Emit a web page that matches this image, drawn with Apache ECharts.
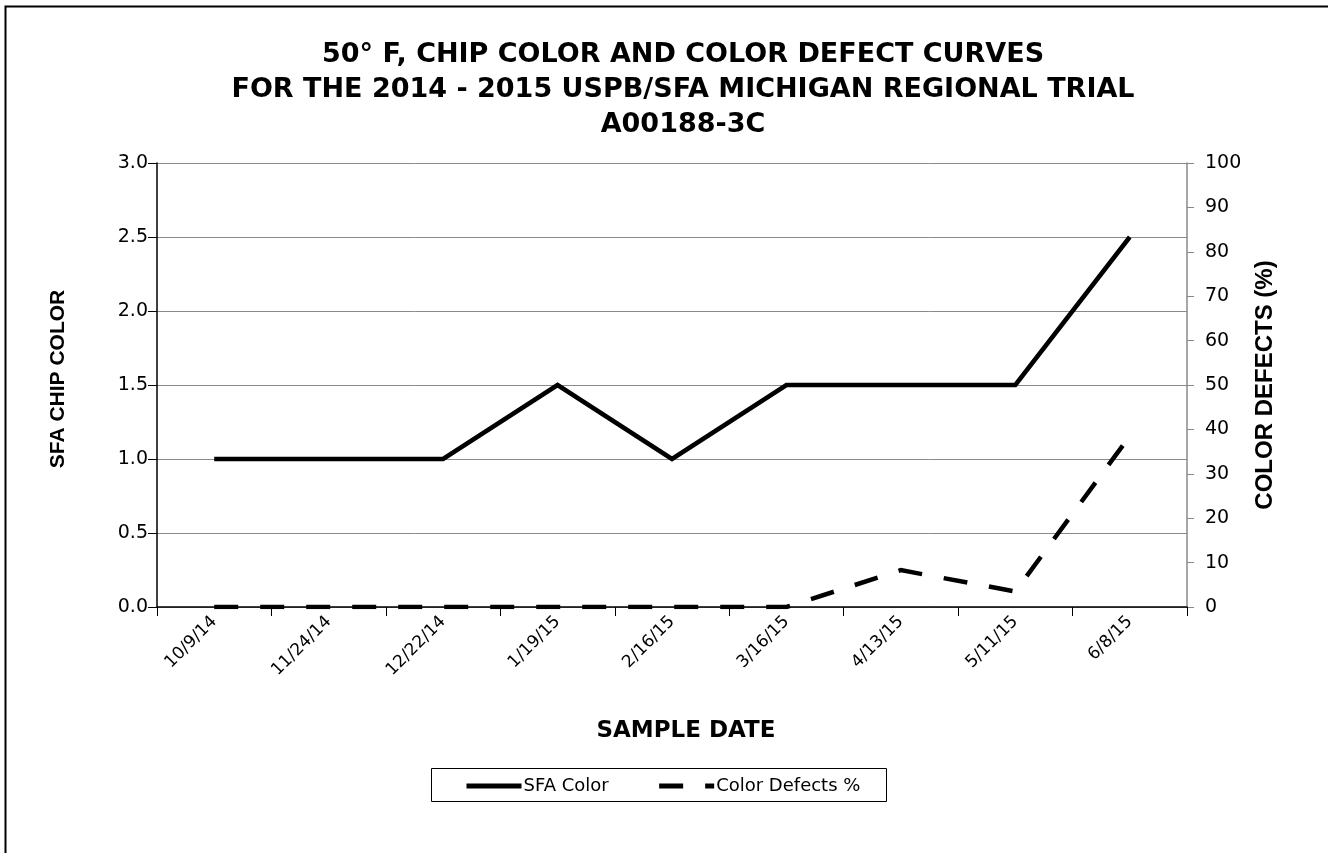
<!DOCTYPE html>
<html>
<head>
<meta charset="utf-8">
<script src="https://cdn.jsdelivr.net/npm/echarts@6/dist/echarts.min.js"></script>
<style>
  html, body { margin: 0; padding: 0; background: #fff; }
  #chart { width: 1328px; height: 853px; }
</style>
</head>
<body>
<div id="chart"></div>
<script>
// Sample dates (category axis)
const sampleDates = ['10/9/14', '11/24/14', '12/22/14', '1/19/15', '2/16/15', '3/16/15', '4/13/15', '5/11/15', '6/8/15'];
// SFA chip color score per sample date
const sfaColor = [1.0, 1.0, 1.0, 1.5, 1.0, 1.5, 1.5, 1.5, 2.5];
// Color defects in percent per sample date
const colorDefects = [0, 0, 0, 0, 0, 0, 8.3, 3.5, 38.5];

const titleLines = [
  '50° F, CHIP COLOR AND COLOR DEFECT CURVES',
  'FOR THE 2014 - 2015 USPB/SFA MICHIGAN REGIONAL TRIAL',
  'A00188-3C'
];

const wideFont = 'DejaVu Sans';
const narrowFont = 'Liberation Sans';

const chart = echarts.init(document.getElementById('chart'), null, { renderer: 'canvas' });

chart.setOption({
  backgroundColor: '#ffffff',
  animation: false,
  title: {
    text: titleLines.join('\n'),
    left: 678,
    textAlign: 'center',
    top: 32,
    textStyle: {
      fontFamily: wideFont,
      fontWeight: 'bold',
      fontSize: 27,
      lineHeight: 35,
      color: '#000'
    }
  },
  graphic: [
    {
      type: 'rect',
      shape: { x: 5.5, y: 6.5, width: 1340, height: 870 },
      style: { fill: 'none', stroke: '#000', lineWidth: 2 },
      silent: true, z: -1
    },
    {
      type: 'rect',
      shape: { x: 431.5, y: 768.5, width: 455, height: 33 },
      style: { fill: 'none', stroke: '#000', lineWidth: 1 },
      silent: true
    }
  ],
  legend: {
    left: 464,
    top: 777,
    itemWidth: 55,
    itemHeight: 16,
    itemGap: 48,
    padding: 0,
    itemStyle: { opacity: 0 },
    lineStyle: { width: 5 },
    textStyle: { fontFamily: wideFont, fontSize: 18, color: '#000', padding: [0, 0, 0, -3] },
    data: ['SFA Color', 'Color Defects %']
  },
  grid: { left: 157, right: 141, top: 163, bottom: 246, containLabel: false },
  xAxis: {
    type: 'category',
    data: sampleDates,
    boundaryGap: true,
    name: 'SAMPLE DATE',
    nameLocation: 'middle',
    nameGap: 113,
    nameTextStyle: { fontFamily: wideFont, fontWeight: 'bold', fontSize: 23, color: '#000', padding: [0, 0, 0, 28] },
    axisLine: { lineStyle: { color: '#000', width: 1.5 } },
    axisTick: { show: true, length: 9, lineStyle: { color: '#000' } },
    axisLabel: {
      rotate: 45,
      interval: 0,
      margin: 12,
      fontFamily: wideFont,
      fontSize: 17,
      color: '#000'
    },
    splitLine: { show: false }
  },
  yAxis: [
    {
      type: 'value',
      min: 0, max: 3, interval: 0.5,
      position: 'left',
      name: 'SFA CHIP COLOR',
      nameLocation: 'middle',
      nameGap: 88,
      nameRotate: 90,
      nameTextStyle: { fontFamily: narrowFont, fontWeight: 'bold', fontSize: 21, color: '#000', padding: [0, 0, 0, 12] },
      axisLine: { show: true, lineStyle: { color: '#000', width: 1.5 } },
      axisTick: { show: true, length: 9, lineStyle: { color: '#000' } },
      axisLabel: {
        margin: 9,
        fontFamily: wideFont,
        fontSize: 19,
        color: '#000',
        formatter: v => v.toFixed(1)
      },
      splitLine: { show: true, lineStyle: { color: '#8a8a8a', width: 1 } }
    },
    {
      type: 'value',
      min: 0, max: 100, interval: 10,
      position: 'right',
      name: 'COLOR DEFECTS (%)',
      nameLocation: 'middle',
      nameGap: 66,
      nameRotate: 90,
      nameTextStyle: { fontFamily: narrowFont, fontWeight: 'bold', fontSize: 24, color: '#000' },
      axisLine: { show: true, lineStyle: { color: '#888', width: 1.5 } },
      axisTick: { show: true, length: 7, lineStyle: { color: '#888' } },
      axisLabel: {
        margin: 18,
        fontFamily: wideFont,
        fontSize: 19,
        color: '#000'
      },
      splitLine: { show: false }
    }
  ],
  series: [
    {
      name: 'SFA Color',
      type: 'line',
      yAxisIndex: 0,
      data: sfaColor,
      symbol: 'none',
      lineStyle: { color: '#000', width: 4.5, cap: 'butt', join: 'miter' },
      itemStyle: { color: '#000' },
      z: 3
    },
    {
      name: 'Color Defects %',
      type: 'line',
      yAxisIndex: 1,
      data: colorDefects,
      symbol: 'none',
      lineStyle: { color: '#000', width: 4.5, type: [24, 22], cap: 'butt', join: 'miter' },
      itemStyle: { color: '#000' },
      z: 4
    }
  ]
});
</script>
</body>
</html>
